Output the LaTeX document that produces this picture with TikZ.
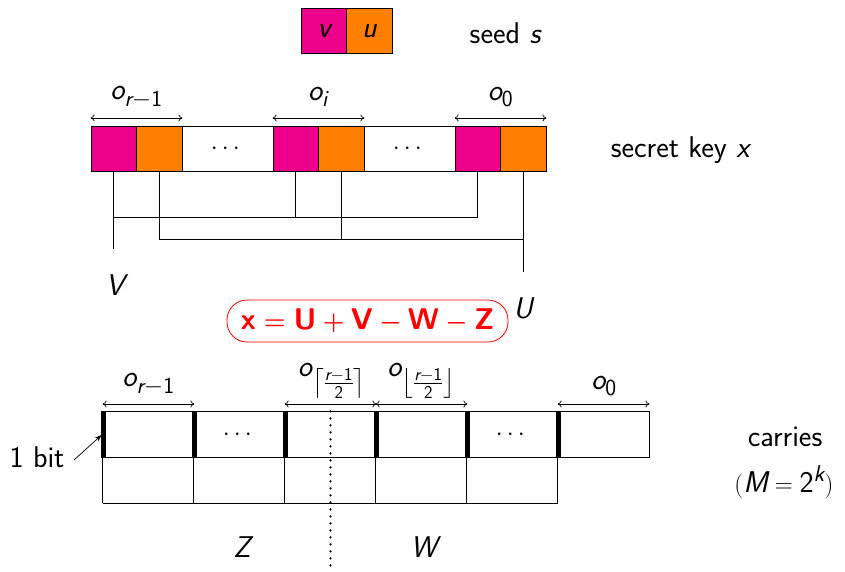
\documentclass[tikz,border=0pt]{standalone}
\usepackage{amsmath}
\usetikzlibrary{arrows.meta}
\DeclareMathSizes{30}{30}{23}{18}
\definecolor{kmag}{RGB}{236,0,140}
\definecolor{korg}{RGB}{255,128,0}
\definecolor{kred}{RGB}{255,0,0}
\newcommand{\mi}[1]{\text{\itshape #1}}
\newcommand{\md}[1]{\text{#1}}
\newcommand{\mb}[1]{\text{\bfseries #1}}
\newcommand{\eqtext}{{\boldmath$\mb{x}=\mb{U}+\mb{V}-\mb{W}-\mb{Z}$}}
\begin{document}
\begin{tikzpicture}[x=1pt,y=-1pt,
  every node/.style={font=\fontsize{30}{36}\selectfont\sffamily, inner sep=0pt},
  cellbox/.style={draw, line width=0.8pt, minimum width=45.5pt, minimum height=45.5pt},
  widebox/.style={draw, line width=0.8pt, minimum width=91pt, minimum height=45.5pt},
  magbox/.style={cellbox, fill=kmag},
  orgbox/.style={cellbox, fill=korg},
  span/.style={{To[length=4pt,width=7pt]}-{To[length=4pt,width=7pt]}, line width=0.7pt},
  wire/.style={line width=0.8pt},
  bitbar/.style={line width=5pt},
  eqbox/.style={draw=kred, line width=0.8pt, rounded corners=20pt, minimum width=281pt, minimum height=42pt, text=kred}]
\useasboundingbox (0,0) rectangle (845,571);

% seed
\node[magbox] (sv) at (324,30.75) {$\mi{v}$};
\node[orgbox] (su) at (369.5,30.75) {$\mi{u}$};
\node (seed) at (505,33) {seed $\mi{s}$};

% secret key row
\node[magbox] (k1m) at (113.75,148.75) {};
\node[orgbox] (k1u) at (159.25,148.75) {};
\node[widebox] (kd1) at (227.5,148.75) {$\cdots$};
\node[magbox] (kim) at (295.75,148.75) {};
\node[orgbox] (kiu) at (341.25,148.75) {};
\node[widebox] (kd2) at (409.5,148.75) {$\cdots$};
\node[magbox] (k0m) at (477.75,148.75) {};
\node[orgbox] (k0u) at (523.25,148.75) {};
\node (skx) at (680,150) {secret key $\mi{x}$};

\coordinate (a1) at (0,118);
\draw[span] (k1m.north west |- a1) -- (k1u.north east |- a1);
\draw[span] (kim.north west |- a1) -- (kiu.north east |- a1);
\draw[span] (k0m.north west |- a1) -- (k0u.north east |- a1);
\node (lr1) at (136.5,97) {$\mi{o}_{\mi{r}-\md{1}}$};
\node (li) at (318,97) {$\mi{o}_{\mi{i}}$};
\node (l0) at (500.5,97) {$\mi{o}_{\md{0}}$};

\coordinate (h1) at (0,217);
\coordinate (h2) at (0,239);
\draw[wire] (k1m.south) -- ++(0,77);
\draw[wire] (k1m.south |- h1) -- (k0m.south |- h1);
\draw[wire] (kim.south) -- (kim.south |- h1);
\draw[wire] (k0m.south) -- (k0m.south |- h1);
\draw[wire] (k1u.south) -- (k1u.south |- h2) -- (k0u.south |- h2);
\draw[wire] (kiu.south) -- (kiu.south |- h2);
\draw[wire] (k0u.south) -- ++(0,100);
\node (V) at (115,285) {$\mi{V}$};
\node (U) at (523,308) {$\mi{U}$};

% equation
\node[eqbox] (eq) at (367.5,321) {\eqtext};

% carries row
\node[widebox] (b1) at (148.5,434.5) {};
\node[widebox] (b2) at (239.5,434.5) {$\cdots$};
\node[widebox] (b3) at (330.5,434.5) {};
\node[widebox] (b4) at (421.5,434.5) {};
\node[widebox] (b5) at (512.5,434.5) {$\cdots$};
\node[widebox] (b6) at (603.5,434.5) {};
\coordinate (bot) at (0,571);
\draw[line width=2.3pt, dash pattern=on 0pt off 7pt, line cap=round] (b3.north) -- (b3.north |- bot);
\foreach \b in {b1,b2,b3,b4,b5,b6}{
  \draw[bitbar] ([xshift=0.5pt]\b.north west) -- ([xshift=0.5pt]\b.south west);
  \draw[wire] (\b.south west) -- ++(0,45.5);
}
\draw[wire] ([yshift=-45.5pt]b1.south west) -- ([yshift=-45.5pt]b6.south west);

\coordinate (a2) at (0,404);
\draw[span] (b1.north west |- a2) -- (b1.north east |- a2);
\draw[span] (b3.north west |- a2) -- (b3.north east |- a2);
\draw[span] (b4.north west |- a2) -- (b4.north east |- a2);
\draw[span] (b6.north west |- a2) -- (b6.north east |- a2);
\node (br1) at (148.5,384) {$\mi{o}_{\mi{r}-\md{1}}$};
\node (bc) at (332,381) {$\mi{o}_{\left\lceil\frac{\mi{r}-\md{1}}{\md{2}}\right\rceil}$};
\node (bf) at (421.5,381) {$\mi{o}_{\left\lfloor\frac{\mi{r}-\md{1}}{\md{2}}\right\rfloor}$};
\node (b0) at (604,386) {$\mi{o}_{\md{0}}$};

\node (bit) at (37,457) {1 bit};
\draw[-{Stealth[length=7pt,width=5pt]}, line width=0.7pt] (74,460) -- ([xshift=-1pt,yshift=-0.5pt]b1.west);

\node (Z) at (242,547) {$\mi{Z}$};
\node (W) at (424,547) {$\mi{W}$};
\node (car) at (785,437) {carries};
\node (mk) at (784,482) {$(\mi{M}=\md{2}^{\mi{k}})$};
\end{tikzpicture}
\end{document}
